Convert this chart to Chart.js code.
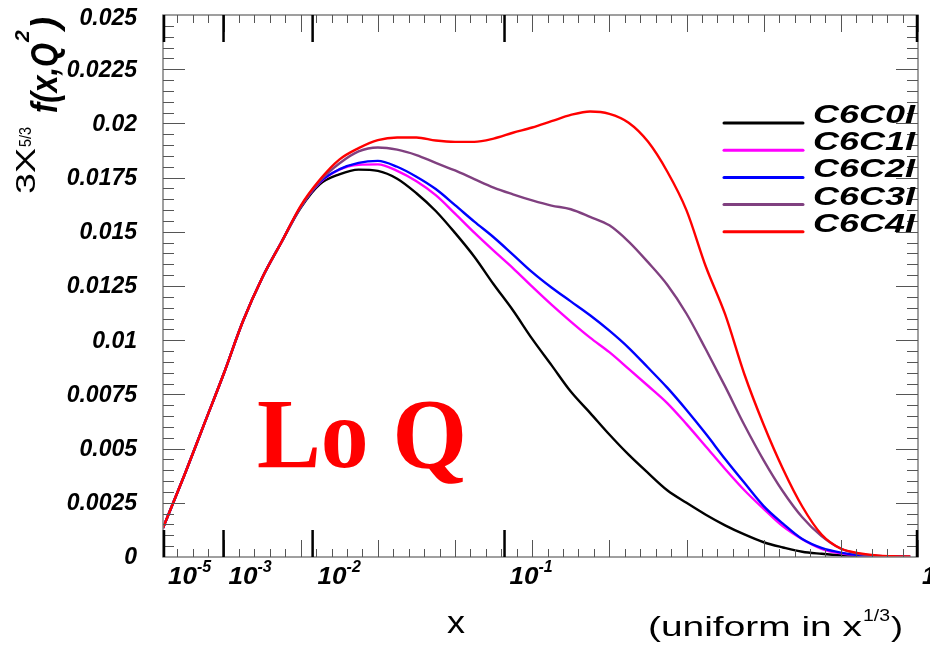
<!DOCTYPE html>
<html>
<head>
<meta charset="utf-8">
<script src="https://cdn.jsdelivr.net/npm/chart.js@4/dist/chart.umd.min.js"></script>
<style>
  html, body { margin: 0; padding: 0; background: #fff; }
  #wrap { width: 930px; height: 646px; }
</style>
</head>
<body>
<div id="wrap"><canvas id="pdfChart" width="930" height="646"></canvas></div>
<script>
// --- data: x is plotted as x^(1/3) ---
const xCbrt = [0.0215, 0.05, 0.075, 0.1, 0.125, 0.15, 0.175, 0.2, 0.225, 0.25,
  0.275, 0.3, 0.325, 0.35, 0.375, 0.4, 0.425, 0.45, 0.475, 0.5,
  0.525, 0.55, 0.575, 0.6, 0.625, 0.65, 0.675, 0.7, 0.725, 0.75,
  0.775, 0.8, 0.825, 0.85, 0.875, 0.9, 0.925, 0.95, 0.975, 0.99];

const c6c0 = [0.00134, 0.00384, 0.00614, 0.00843, 0.01086, 0.01287, 0.01452, 0.0161, 0.0172, 0.01765,
  0.01787, 0.01781, 0.01745, 0.01678, 0.01596, 0.01495, 0.01385, 0.01258, 0.01138, 0.01006,
  0.00885, 0.00763, 0.00665, 0.00565, 0.00472, 0.00388, 0.00308, 0.0025, 0.00195, 0.00146,
  0.00104, 0.00068, 0.00044, 0.00024, 0.00015, 0.00008, 0.00004, 0.00002, 0.00001, 0];
const c6c1 = [0.00134, 0.00384, 0.00614, 0.00843, 0.01086, 0.01287, 0.01452, 0.01615, 0.01728, 0.01787,
  0.01809, 0.01811, 0.01781, 0.01733, 0.01669, 0.01584, 0.01496, 0.01413, 0.01333, 0.01247,
  0.01164, 0.01086, 0.01012, 0.00945, 0.00868, 0.0079, 0.0071, 0.00613, 0.0051, 0.00406,
  0.00308, 0.00222, 0.00141, 0.00082, 0.00038, 0.00017, 0.00008, 0.00003, 0.00001, 0];
const c6c2 = [0.00134, 0.00384, 0.00614, 0.00843, 0.01086, 0.01287, 0.01452, 0.01615, 0.0173, 0.01788,
  0.01818, 0.01827, 0.018, 0.01754, 0.01697, 0.01623, 0.01547, 0.01475, 0.01395, 0.01314,
  0.01243, 0.01179, 0.01115, 0.01044, 0.00965, 0.00874, 0.00781, 0.00678, 0.00568, 0.00452,
  0.00342, 0.00235, 0.00154, 0.00083, 0.00042, 0.0002, 0.00008, 0.00003, 0.00001, 0];
const c6c3 = [0.00134, 0.00384, 0.00614, 0.00843, 0.01086, 0.01287, 0.01452, 0.01615, 0.01735, 0.01815,
  0.01871, 0.01889, 0.01879, 0.01854, 0.01818, 0.01783, 0.01743, 0.01704, 0.01673, 0.01645,
  0.01621, 0.01604, 0.01569, 0.0153, 0.01455, 0.0136, 0.01256, 0.01122, 0.00958, 0.00787,
  0.00609, 0.00446, 0.00302, 0.00183, 0.00096, 0.00038, 0.00014, 0.00005, 0.00001, 0];
const c6c4 = [0.00134, 0.00384, 0.00614, 0.00843, 0.01086, 0.01287, 0.01452, 0.0162, 0.01741, 0.01833,
  0.01886, 0.01923, 0.01935, 0.01935, 0.01921, 0.01915, 0.01915, 0.0193, 0.01957, 0.01981,
  0.0201, 0.02039, 0.02055, 0.02044, 0.02003, 0.01916, 0.01778, 0.01599, 0.0134, 0.0112,
  0.00843, 0.0061, 0.00406, 0.00233, 0.00104, 0.00039, 0.00017, 0.00006, 0.00003, 0.00002];

const seriesNames = ['C6C0I', 'C6C1I', 'C6C2I', 'C6C3I', 'C6C4I'];
const seriesColors = ['#000000', '#ff00ff', '#0000ff', '#804080', '#ff0000'];
const seriesValues = [c6c0, c6c1, c6c2, c6c3, c6c4];

const xTickValues = [1e-5, 1e-3, 1e-2, 1e-1, 1];
const xTickExps = ['-5', '-3', '-2', '-1', ''];
const yTicks = [0, 0.0025, 0.005, 0.0075, 0.01, 0.0125, 0.015, 0.0175, 0.02, 0.0225, 0.025];
const yTickLabels = ['0', '0.0025', '0.005', '0.0075', '0.01', '0.0125', '0.015', '0.0175', '0.02', '0.0225', '0.025'];

const SANS = '"Liberation Sans", Arial, Helvetica, sans-serif';
const BI = (px) => `italic bold ${px}px ${SANS}`;
const RG = (px) => `${px}px ${SANS}`;

// draw text squeezed/stretched to a given width (0 = natural)
function fitText(ctx, str, x, y, font, width) {
  ctx.save();
  ctx.font = font;
  const w = ctx.measureText(str).width;
  const sx = width ? width / w : 1;
  ctx.translate(x, y);
  ctx.scale(sx, 1);
  ctx.fillText(str, 0, 0);
  ctx.restore();
  return w * sx;
}

const framePlugin = {
  id: 'rootFrame',
  afterDraw(chart) {
    const ctx = chart.ctx;
    const xs = chart.scales.x, ys = chart.scales.y;
    const { left, right, top, bottom } = chart.chartArea;
    ctx.save();

    // frame
    ctx.strokeStyle = '#808080';
    ctx.lineWidth = 1.5;
    ctx.strokeRect(left, top, right - left, bottom - top);

    // x ticks: linear in x^(1/3), every 0.02, longer every 0.1
    ctx.strokeStyle = '#555';
    ctx.lineWidth = 1;
    for (let k = 2; k <= 50; k++) {
      const px = Math.round(xs.getPixelForValue(k * 0.02)) + 0.5;
      const len = k % 5 === 0 ? 17 : 8;
      ctx.beginPath();
      ctx.moveTo(px, bottom); ctx.lineTo(px, bottom - len);
      ctx.moveTo(px, top); ctx.lineTo(px, top + len);
      ctx.stroke();
    }
    // y ticks: every 0.0005, longer every 0.0025, both sides
    for (let k = 1; k < 50; k++) {
      const py = Math.round(ys.getPixelForValue(k * 0.0005)) + 0.5;
      const len = k % 5 === 0 ? 22 : 11;
      ctx.beginPath();
      ctx.moveTo(left, py); ctx.lineTo(left + len, py);
      ctx.moveTo(right, py); ctx.lineTo(right - len, py);
      ctx.stroke();
    }
    // big log-decade ticks
    ctx.strokeStyle = '#000';
    ctx.lineWidth = 2.5;
    xTickValues.forEach(v => {
      let px = xs.getPixelForValue(Math.cbrt(v));
      px = Math.min(Math.max(px, left + 1), right - 1);
      ctx.beginPath();
      ctx.moveTo(px, bottom); ctx.lineTo(px, bottom - 27);
      ctx.moveTo(px, top); ctx.lineTo(px, top + 27);
      ctx.stroke();
    });

    // x tick labels
    ctx.fillStyle = '#000';
    ctx.textBaseline = 'alphabetic';
    ctx.textAlign = 'left';
    xTickValues.forEach((v, i) => {
      const px = xs.getPixelForValue(Math.cbrt(v)) + 4;
      if (xTickExps[i]) {
        const w = fitText(ctx, '10', px + 1, 584, BI(24), 29);
        fitText(ctx, xTickExps[i], px + w + 1, 572, BI(16), 0);
      } else {
        fitText(ctx, '1', px, 584, BI(24), 0);
      }
    });

    // y tick labels
    ctx.textAlign = 'right';
    ctx.textBaseline = 'middle';
    ctx.font = BI(23);
    yTicks.forEach((v, i) => {
      let py = ys.getPixelForValue(v);
      if (i === yTicks.length - 1) py += 3;
      ctx.fillText(yTickLabels[i], 137, py + 1);
    });

    // x axis titles
    ctx.textAlign = 'left';
    ctx.textBaseline = 'alphabetic';
    fitText(ctx, 'x', 447, 633, RG(32), 18);
    const w1 = fitText(ctx, '(uniform in x', 648, 636, RG(27), 214);
    const w2 = fitText(ctx, '1/3', 648 + w1 + 1, 621, RG(17), 27);
    fitText(ctx, ')', 648 + w1 + w2 + 2, 636, RG(27), 12);

    // y axis title (rotated)
    ctx.save();
    ctx.rotate(-Math.PI / 2);
    // after rotation: draw at (-y, x)
    fitText(ctx, '3X', -194, 35, RG(28), 46);
    fitText(ctx, '5/3', -147, 31, RG(16), 20);
    const wf = fitText(ctx, 'f(x,Q', -113, 57, BI(36), 70);
    fitText(ctx, '2', -113 + wf + 1, 29, BI(21), 0);
    fitText(ctx, ')', -113 + wf + 14, 57, BI(36), 0);
    ctx.restore();

    // legend
    ctx.save();
    ctx.beginPath();
    ctx.rect(0, 0, right - 1, 646);
    ctx.clip();
    seriesNames.forEach((name, i) => {
      const ly = 123 + i * 27.2;
      ctx.strokeStyle = seriesColors[i];
      ctx.lineWidth = 3;
      ctx.lineCap = 'round';
      ctx.beginPath();
      ctx.moveTo(724, ly); ctx.lineTo(803, ly);
      ctx.stroke();
      ctx.fillStyle = '#000';
      fitText(ctx, name, 813, ly, BI(26), 102);
    });
    ctx.restore();

    // Lo Q label
    ctx.fillStyle = '#ff0000';
    fitText(ctx, 'Lo Q', 257, 467, 'bold 100px "Liberation Serif", "Times New Roman", serif', 210);

    ctx.restore();
  }
};

new Chart(document.getElementById('pdfChart'), {
  type: 'line',
  data: {
    datasets: seriesValues.map((vals, i) => ({
      label: seriesNames[i],
      data: xCbrt.map((u, j) => ({ x: u, y: vals[j] })),
      borderColor: seriesColors[i],
      borderWidth: 2.4,
      pointRadius: 0,
      cubicInterpolationMode: 'monotone',
      fill: false,
      order: seriesValues.length - i
    }))
  },
  options: {
    responsive: false,
    animation: false,
    devicePixelRatio: 1,
    layout: { padding: { left: 163, right: 12, top: 15, bottom: 89 } },
    plugins: { legend: { display: false }, tooltip: { enabled: false } },
    scales: {
      x: { type: 'linear', min: Math.cbrt(1e-5), max: 1, display: false },
      y: { type: 'linear', min: 0, max: 0.025, display: false }
    }
  },
  plugins: [framePlugin]
});
</script>
</body>
</html>
